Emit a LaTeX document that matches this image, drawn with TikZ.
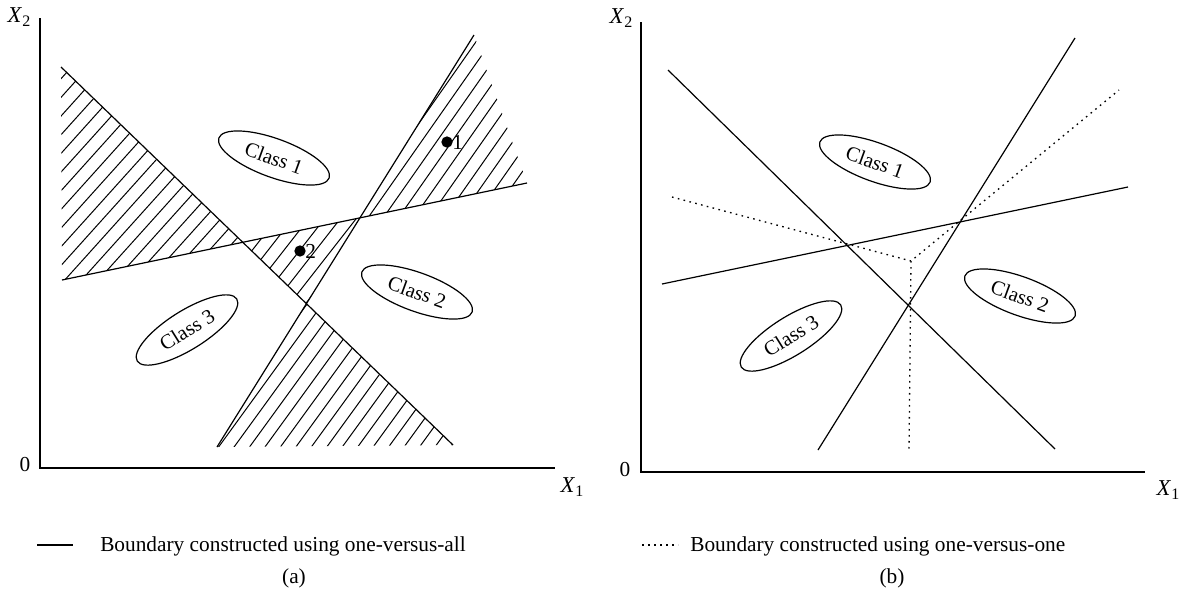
\documentclass[tikz,border=0pt]{standalone}
\usepackage{fontspec}
\setmainfont{Liberation Serif}
\usetikzlibrary{shapes.geometric}
\begin{document}
\begin{tikzpicture}[x=0.75pt,y=-0.75pt,
  bline/.style={line width=0.9pt},
  axisline/.style={line width=1pt},
  dline/.style={line width=1pt, dash pattern=on 1.2pt off 3.3pt},
  hatchl/.style={line width=0.75pt},
  cls/.style={draw, ellipse, line width=0.9pt, minimum width=88pt, minimum height=29pt, inner sep=0pt, font=\fontsize{15.5}{17}\selectfont},
  lbl/.style={font=\fontsize{16}{18}\selectfont, inner sep=0pt},
  axlbl/.style={font=\fontsize{17}{19}\selectfont, inner sep=0pt},
  txt/.style={font=\fontsize{16}{18}\selectfont, inner sep=0pt},
  dot/.style={circle, fill=black, inner sep=0pt, minimum size=8.5pt}]
\useasboundingbox (0,0) rectangle (1190,601);

% ---------------- Panel (a) ----------------
\coordinate (LO) at (40,468); \coordinate (LY) at (40,18); \coordinate (LX) at (555,468);
\draw[axisline] (LY) -- (LO) -- (LX);
\node[axlbl] (lx2) at (19,17) {\textit{X}\raisebox{-0.45ex}{\fontsize{12}{13}\selectfont 2}};
\node[axlbl] (lx1) at (572,487) {\textit{X}\raisebox{-0.45ex}{\fontsize{12}{13}\selectfont 1}};
\node[lbl] (l0) at (25,465) {0};

\coordinate (A1) at (61,67);  \coordinate (A2) at (453,445);
\coordinate (B1) at (62,280); \coordinate (B2) at (527,183);
\coordinate (C1) at (217,447); \coordinate (C2) at (474,35);
\coordinate (AB) at (intersection of A1--A2 and B1--B2);
\coordinate (BC) at (intersection of B1--B2 and C1--C2);
\coordinate (AC) at (intersection of A1--A2 and C1--C2);

% hatching: region, centre, angle
\foreach \pa/\pb/\pc/\cx/\cy/\th in {
   A1/AB/B1/120/200/48,
   AB/BC/AC/300/250/52,
   BC/C2/B2/460/130/55,
   AC/C1/A2/330/400/54} {
  \begin{scope}
    \clip (\pa) -- (\pb) -- (\pc) -- cycle;
    \foreach \k in {-30,...,30} {
      \draw[hatchl] ({\cx+\k*12.5*sin(\th)-320*cos(\th)},{\cy+\k*12.5*cos(\th)+320*sin(\th)})
        -- ({\cx+\k*12.5*sin(\th)+320*cos(\th)},{\cy+\k*12.5*cos(\th)-320*sin(\th)});
    }
  \end{scope}
}
\draw[bline] (A1) -- (A2);
\draw[bline] (B1) -- (B2);
\draw[bline] (C1) -- (C2);

\node[dot] (p1) at (447,142) {};
\node[lbl, anchor=west] (p1l) at (452,142) {1};
\node[dot] (p2) at (300,251) {};
\node[lbl, anchor=west] (p2l) at (305,251) {2};

\node[cls, rotate=-20] (c1a) at (274,158) {Class 1};
\node[cls, rotate=-20] (c2a) at (417,292) {Class 2};
\node[cls, rotate=32] (c3a) at (187,330) {Class 3};

\coordinate (lg1) at (37,545); \coordinate (lg2) at (73,545);
\draw[bline] (lg1) -- (lg2);
\node[txt, anchor=west] (lgt1) at (100,546) {Boundary constructed using one-versus-all};
\node[txt] (capa) at (294,578) {(a)};

% ---------------- Panel (b) ----------------
\coordinate (RO) at (641,472); \coordinate (RY) at (641,22); \coordinate (RX) at (1145,472);
\draw[axisline] (RY) -- (RO) -- (RX);
\node[axlbl] (rx2) at (621,18) {\textit{X}\raisebox{-0.45ex}{\fontsize{12}{13}\selectfont 2}};
\node[axlbl] (rx1) at (1168,490) {\textit{X}\raisebox{-0.45ex}{\fontsize{12}{13}\selectfont 1}};
\node[lbl] (r0) at (625,470) {0};

\coordinate (RA1) at (668,70);  \coordinate (RA2) at (1055,449);
\coordinate (RB1) at (662,284); \coordinate (RB2) at (1128,187);
\coordinate (RC1) at (818,450); \coordinate (RC2) at (1075,38);
\draw[bline] (RA1) -- (RA2);
\draw[bline] (RB1) -- (RB2);
\draw[bline] (RC1) -- (RC2);

\coordinate (D0) at (911,261); \coordinate (D1) at (672,197);
\coordinate (D2) at (1119,90); \coordinate (D3) at (909,452);
\draw[dline] (D1) -- (D0) -- (D2);
\draw[dline] (D0) -- (D3);

\node[cls, rotate=-20] (c1b) at (875,162) {Class 1};
\node[cls, rotate=-20] (c2b) at (1020,296) {Class 2};
\node[cls, rotate=32] (c3b) at (791,336) {Class 3};

\coordinate (lg3) at (642,545); \coordinate (lg4) at (678,545);
\draw[dline] (lg3) -- (lg4);
\node[txt, anchor=west] (lgt2) at (690,546) {Boundary constructed using one-versus-one};
\node[txt] (capb) at (892,578) {(b)};
\end{tikzpicture}
\end{document}
